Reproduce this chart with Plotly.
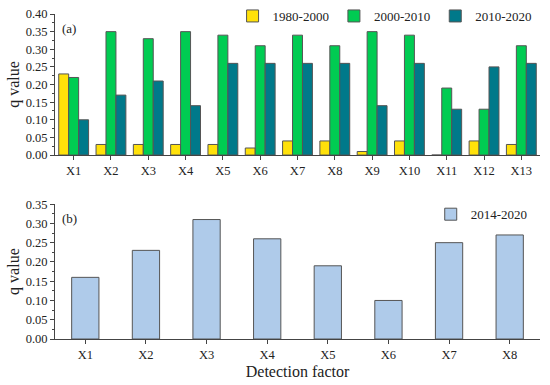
import plotly.graph_objects as go

cats_a = [f"X{i}" for i in range(1, 14)]
s1980 = [0.23, 0.03, 0.03, 0.03, 0.03, 0.02, 0.04, 0.04, 0.01, 0.04, 0.00, 0.04, 0.03]
s2000 = [0.22, 0.35, 0.33, 0.35, 0.34, 0.31, 0.34, 0.31, 0.35, 0.34, 0.19, 0.13, 0.31]
s2010 = [0.10, 0.17, 0.21, 0.14, 0.26, 0.26, 0.26, 0.26, 0.14, 0.26, 0.13, 0.25, 0.26]

cats_b = [f"X{i}" for i in range(1, 9)]
s2014 = [0.16, 0.23, 0.31, 0.26, 0.19, 0.10, 0.25, 0.27]

FONT = "Times New Roman"
line = dict(color="#555555", width=1)

fig = go.Figure()
fig.add_trace(go.Bar(x=cats_a, y=s1980, name="1980-2000", marker=dict(color="#FFE10A", line=line),
                     xaxis="x", yaxis="y", legend="legend"))
fig.add_trace(go.Bar(x=cats_a, y=s2000, name="2000-2010", marker=dict(color="#00CC52", line=line),
                     xaxis="x", yaxis="y", legend="legend"))
fig.add_trace(go.Bar(x=cats_a, y=s2010, name="2010-2020", marker=dict(color="#00798A", line=line),
                     xaxis="x", yaxis="y", legend="legend"))
fig.add_trace(go.Bar(x=cats_b, y=s2014, name="2014-2020", marker=dict(color="#AFCBEA", line=line),
                     xaxis="x2", yaxis="y2", legend="legend2", width=0.45))

axis_common = dict(showline=True, linecolor="#444444", linewidth=1, ticks="outside", ticklen=4,
                   tickcolor="#444444", showgrid=False, zeroline=False, automargin=False,
                   tickfont=dict(family=FONT, size=12.5, color="#222222"))

fig.update_layout(
    width=550, height=385,
    margin=dict(l=55, r=10, t=14, b=46, autoexpand=False),
    paper_bgcolor="white", plot_bgcolor="white",
    barmode="group", bargap=0.2, bargroupgap=0,
    font=dict(family=FONT, color="#222222"),
    xaxis=dict(domain=[0, 1], anchor="y", range=[-0.5, 12.5], **axis_common),
    yaxis=dict(domain=[0.566, 1], anchor="x", range=[0, 0.40], dtick=0.05, tickformat=".2f",
               minor=dict(ticks="outside", ticklen=2, dtick=0.025, tickcolor="#444444"),
               title=dict(text="q value", font=dict(family=FONT, size=16), standoff=2), **axis_common),
    xaxis2=dict(domain=[0, 1], anchor="y2", range=[-0.5, 7.5],
                title=dict(text="Detection factor", font=dict(family=FONT, size=16), standoff=4), **axis_common),
    yaxis2=dict(domain=[0, 0.415], anchor="x2", range=[0, 0.35], dtick=0.05, tickformat=".2f",
                minor=dict(ticks="outside", ticklen=2, dtick=0.025, tickcolor="#444444"),
                title=dict(text="q value", font=dict(family=FONT, size=16), standoff=2), **axis_common),
    legend=dict(orientation="h", x=0.995, xanchor="right", y=1.04, yanchor="top",
                font=dict(family=FONT, size=13), bgcolor="rgba(0,0,0,0)",
                itemwidth=30),
    legend2=dict(x=0.985, xanchor="right", y=0.43, yanchor="top",
                 font=dict(family=FONT, size=13), bgcolor="rgba(0,0,0,0)", itemwidth=30),
    showlegend=True,
    annotations=[
        dict(text="(a)", x=0.01, y=0.985, xref="paper", yref="paper", xanchor="left", yanchor="top",
             showarrow=False, font=dict(family=FONT, size=13)),
        dict(text="(b)", x=0.01, y=0.40, xref="paper", yref="paper", xanchor="left", yanchor="top",
             showarrow=False, font=dict(family=FONT, size=13)),
    ],
)

fig.write_html("out.html", post_script="document.body.style.margin='0';",
               config={"displayModeBar": False})
